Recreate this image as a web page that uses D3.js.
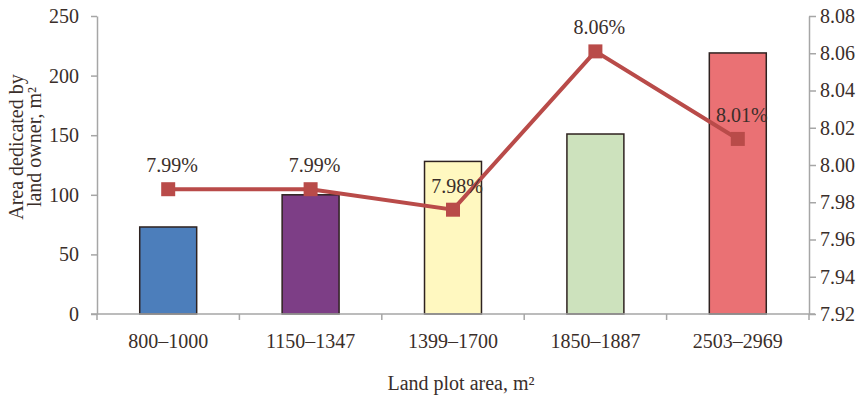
<!DOCTYPE html>
<html>
<head>
<meta charset="utf-8">
<script src="https://cdn.jsdelivr.net/npm/d3@7"></script>
<style>
  body { margin: 0; background: #fff; }
  svg text { font-family: "Liberation Serif", "Times New Roman", serif; fill: #3a2e2a; }
</style>
</head>
<body>
<div id="chart"></div>
<script>
// DATA
const categories = ["800–1000", "1150–1347", "1399–1700", "1850–1887", "2503–2969"];
const areaPerOwner = [73, 100, 128, 151, 219];
const sharePct = [7.987, 7.987, 7.976, 8.061, 8.014];
const shareLabels = ["7.99%", "7.99%", "7.98%", "8.06%", "8.01%"];
const barColors = ["#4c7ebb", "#7d3e86", "#fff8c0", "#cde2bd", "#ea7174"];
const leftTicks = [0, 50, 100, 150, 200, 250];
const rightTicks = [7.92, 7.94, 7.96, 7.98, 8.00, 8.02, 8.04, 8.06, 8.08];

// GRAPH CONSTANTS
const w = 868;
const h = 401;
const padLeft = 97;
const padRight = 59;
const padTop = 16;
const padBottom = 87;
const axisColor = "#a6a6a6";
const lineColor = "#b94b49";
const fontFamily = '"Liberation Serif", "Times New Roman", serif';

const svg = d3.select("#chart")
    .append("svg")
    .attr("width", w)
    .attr("height", h);

// SCALES
const xScale = d3.scaleBand()
    .domain(categories)
    .range([padLeft, w - padRight]);
const yLeft = d3.scaleLinear()
    .domain([0, 250])
    .range([h - padBottom, padTop]);
const yRight = d3.scaleLinear()
    .domain([7.92, 8.08])
    .range([h - padBottom, padTop]);

// BARS
const barFrac = 0.4;
svg.append("g")
    .selectAll("rect")
    .data(areaPerOwner)
    .join("rect")
    .attr("x", (d, i) => xScale(categories[i]) + xScale.bandwidth() * (1 - barFrac) / 2)
    .attr("width", xScale.bandwidth() * barFrac)
    .attr("y", d => yLeft(d))
    .attr("height", d => yLeft(0) - yLeft(d))
    .attr("fill", (d, i) => barColors[i])
    .attr("stroke", "#2e2220")
    .attr("stroke-width", 1.5);

// AXES
const xAxis = svg.append("g")
    .attr("transform", `translate(0, ${h - padBottom})`)
    .call(d3.axisBottom(xScale).tickSize(0).tickPadding(20));
xAxis.select(".domain").remove();
// axis line and boundary ticks
const bounds = categories.map(c => xScale(c)).concat(xScale.range()[1]);
xAxis.append("line")
    .attr("x1", padLeft - 6).attr("x2", w - padRight + 6)
    .attr("stroke", axisColor).attr("stroke-width", 1.5);
xAxis.selectAll("line.bt")
    .data(bounds)
    .join("line")
    .attr("class", "bt")
    .attr("x1", d => d).attr("x2", d => d)
    .attr("y1", 0).attr("y2", 6)
    .attr("stroke", axisColor).attr("stroke-width", 1.5);

const leftAxis = svg.append("g")
    .attr("transform", `translate(${padLeft}, 0)`)
    .call(d3.axisLeft(yLeft).tickValues(leftTicks).tickSize(6).tickPadding(12).tickSizeOuter(0));

const rightAxis = svg.append("g")
    .attr("transform", `translate(${w - padRight}, 0)`)
    .call(d3.axisRight(yRight).tickValues(rightTicks).tickFormat(d3.format(".2f")).tickSize(7).tickPadding(4).tickSizeOuter(0));

[xAxis, leftAxis, rightAxis].forEach(a => {
    a.attr("font-family", fontFamily).attr("font-size", 20).attr("color", "#3a2e2a");
    a.selectAll(".tick line, .domain").attr("stroke", axisColor).attr("stroke-width", 1.5);
});

// LINE
const cx = i => xScale(categories[i]) + xScale.bandwidth() / 2;
const line = d3.line()
    .x((d, i) => cx(i))
    .y(d => yRight(d));
svg.append("path")
    .datum(sharePct)
    .attr("d", line)
    .attr("fill", "none")
    .attr("stroke", lineColor)
    .attr("stroke-width", 4);

const markerSize = 14;
svg.append("g")
    .selectAll("rect")
    .data(sharePct)
    .join("rect")
    .attr("x", (d, i) => cx(i) - markerSize / 2)
    .attr("y", d => yRight(d) - markerSize / 2)
    .attr("width", markerSize)
    .attr("height", markerSize)
    .attr("fill", lineColor);

svg.append("g")
    .selectAll("text")
    .data(sharePct)
    .join("text")
    .attr("x", (d, i) => cx(i) + 4)
    .attr("y", d => yRight(d) - 17)
    .attr("text-anchor", "middle")
    .attr("font-size", 20)
    .text((d, i) => shareLabels[i]);

// TITLES
const yTitle = svg.append("text")
    .attr("transform", "translate(0, 147) rotate(-90)")
    .attr("text-anchor", "middle")
    .attr("font-size", 20);
yTitle.append("tspan").attr("x", 0).attr("y", 23).text("Area dedicated by");
yTitle.append("tspan").attr("x", 0).attr("y", 41).text("land owner, m²");

svg.append("text")
    .attr("x", 461)
    .attr("y", 390)
    .attr("text-anchor", "middle")
    .attr("font-size", 20)
    .text("Land plot area, m²");
</script>
</body>
</html>
